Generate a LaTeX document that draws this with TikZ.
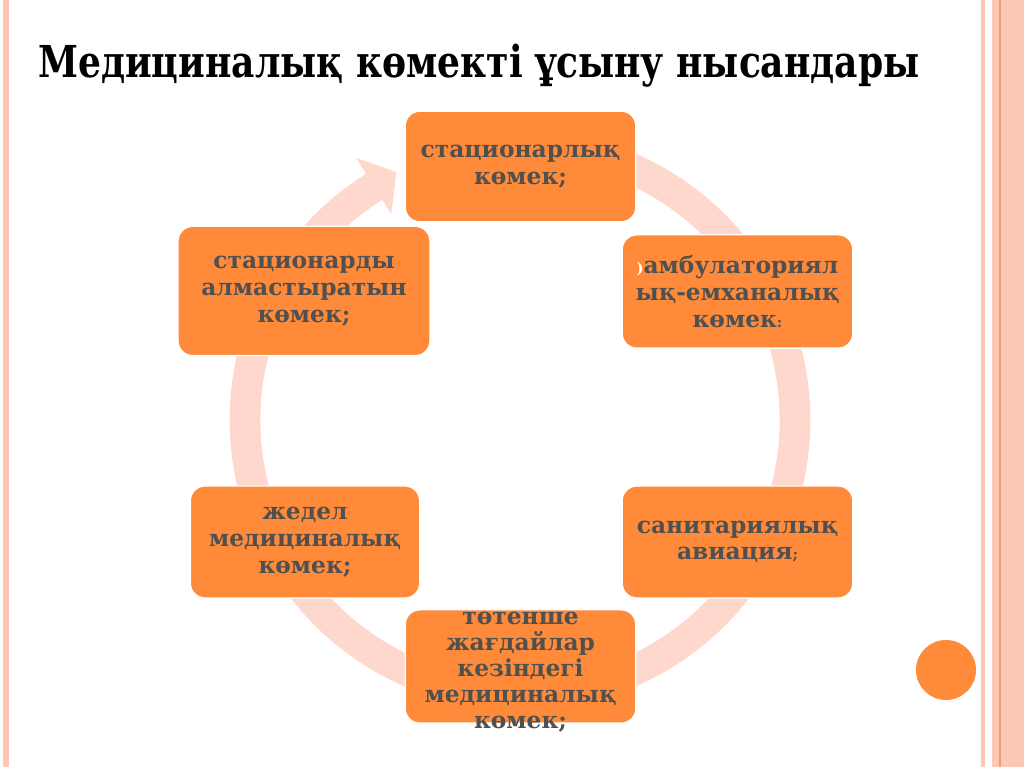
\documentclass[tikz,border=0pt]{standalone}
\usepackage{fontspec}
\setmainfont{DejaVu Serif}
\newfontfamily\titlefont[FakeStretch=0.82]{DejaVu Serif}
\usetikzlibrary{calc}

\definecolor{boxorange}{HTML}{FF8B3A}
\definecolor{boxtext}{HTML}{505050}
\definecolor{ringpink}{HTML}{FFD8CD}
\definecolor{framepink}{HTML}{FDC7B5}
\definecolor{framedark}{HTML}{EE9E6E}

\newcommand{\boxfont}{\bfseries\fontsize{17.5pt}{20pt}\selectfont}

\begin{document}
\begin{tikzpicture}[x=0.75pt,y=0.75pt,
  stage/.style={draw=white, line width=1pt, fill=boxorange, rounded corners=11pt,
    text=boxtext, font=\boxfont, align=center, inner sep=2pt}]
  \useasboundingbox (0,0) rectangle (1024,767);
  \fill[white] (0,0) rectangle (1024,767);
  % frame
  \fill[framepink] (3,0) rectangle (9,767);
  \fill[framepink] (981,0) rectangle (985,767);
  \fill[framepink] (992,0) rectangle (1024,767);
  \draw[framedark, line width=0.8pt] (1000,0)--(1000,767);
  % title
  \node[anchor=base west, inner sep=0pt, font=\titlefont\bfseries\fontsize{33pt}{36pt}\selectfont]
    (title) at (38,689) {Медициналық көмекті ұсыну нысандары};
  % cycle ring with arrow head
  \coordinate (hub) at (520,347);
  \draw[ringpink, line width=23pt] ($(hub)+(95:275)$) arc[start angle=95, end angle=-238, radius=275];
  \fill[ringpink] ($(hub)+(122:243)$) -- ($(hub)+(116.5:277)$) -- ($(hub)+(122:309)$) -- cycle;
  % stages
  \node[stage, minimum width=173pt, minimum height=83pt] (inpat) at (520.5,600.5)
    {стационарлық\\көмек;};
  \node[stage, minimum width=173pt, minimum height=85pt] (outpat) at (737.5,475.5)
    {{\color{white}\fontsize{11pt}{20pt}\selectfont)}амбулаториял\\ық-емханалық\\көмек{\fontsize{11pt}{20pt}\selectfont:}};
  \node[stage, minimum width=173pt, minimum height=84pt] (avia) at (737.5,225)
    {санитариялық\\авиация{\fontsize{11pt}{20pt}\selectfont;}};
  \node[stage, minimum width=173pt, minimum height=85pt] (emerg) at (520.5,100.5) {};
  \node[text=boxtext, font=\bfseries\fontsize{17.5pt}{19.6pt}\selectfont, align=center] (emergtext) at (520.5,95)
    {төтенше\\жағдайлар\\кезіндегі\\медициналық\\көмек;};
  \node[stage, minimum width=172pt, minimum height=84pt] (ambul) at (305,225)
    {жедел\\медициналық\\көмек;};
  \node[stage, minimum width=189pt, minimum height=97pt] (subst) at (304,476)
    {стационарды\\алмастыратын\\көмек;};
  % corner dot
  \fill[boxorange] (946,97) circle (22.5pt);
\end{tikzpicture}
\end{document}
